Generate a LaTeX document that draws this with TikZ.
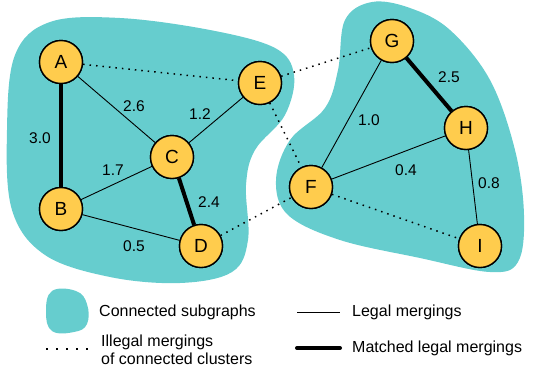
\documentclass[tikz,border=0pt]{standalone}
\usepackage{fontspec}
\setmainfont{Liberation Sans}
\begin{document}
\begin{tikzpicture}[x=1pt,y=-1pt,
  vtx/.style={circle,draw=black,line width=1.4pt,fill=nodeyellow,minimum size=43pt,inner sep=0pt,font=\fontsize{19}{19}\selectfont},
  legal/.style={line width=0.9pt},
  matched/.style={line width=4pt},
  illegal/.style={line width=1.5pt,dash pattern=on 1.5pt off 5pt},
  wlab/.style={font=\fontsize{15.5}{16}\selectfont,inner sep=0pt},
  leg/.style={font=\fontsize{16}{18}\selectfont,anchor=west,inner sep=0pt,align=left},
  blob/.style={fill=blobteal,draw=none}]
\definecolor{blobteal}{RGB}{102,205,206}
\definecolor{nodeyellow}{RGB}{255,204,77}
\useasboundingbox (0,0) rectangle (535,370);
% blobs
\fill[blob] plot[smooth cycle,tension=0.6] coordinates {(7,130) (15,55) (50,22) (120,18) (210,30) (275,48) (294,75) (285,115) (255,150) (246,185) (248,240) (232,272) (180,283) (110,277) (45,255) (12,210)};
\fill[blob] plot[smooth cycle,tension=0.6] coordinates {(372,2) (345,20) (338,70) (325,108) (290,140) (276,180) (288,215) (340,240) (420,258) (490,272) (518,262) (524,215) (515,150) (490,80) (450,30) (410,8)};
% nodes
\node[vtx] (A) at (61,62) {A};
\node[vtx] (B) at (61,209) {B};
\node[vtx] (C) at (172,157) {C};
\node[vtx] (D) at (201,246) {D};
\node[vtx] (E) at (260,83) {E};
\node[vtx] (G) at (392,41) {G};
\node[vtx] (H) at (466,128) {H};
\node[vtx] (F) at (311,187) {F};
\node[vtx] (I) at (480,246) {I};
% edges
\draw[matched] (A) -- (B);
\draw[matched] (C) -- (D);
\draw[matched] (G) -- (H);
\draw[legal] (A) -- (C);
\draw[legal] (C) -- (E);
\draw[legal] (B) -- (C);
\draw[legal] (B) -- (D);
\draw[legal] (G) -- (F);
\draw[legal] (F) -- (H);
\draw[legal] (H) -- (I);
\draw[illegal] (A) -- (E);
\draw[illegal] (E) -- (G);
\draw[illegal] (E) -- (F);
\draw[illegal] (D) -- (F);
\draw[illegal] (F) -- (I);
% redraw nodes on top
\node[vtx] at (A) {A};
\node[vtx] at (B) {B};
\node[vtx] at (C) {C};
\node[vtx] at (D) {D};
\node[vtx] at (E) {E};
\node[vtx] at (G) {G};
\node[vtx] at (H) {H};
\node[vtx] at (F) {F};
\node[vtx] at (I) {I};
% weights
\node[wlab] (wab) at (40,138) {3.0};
\node[wlab] (wac) at (134,106) {2.6};
\node[wlab] (wce) at (200,114) {1.2};
\node[wlab] (wbc) at (113,170) {1.7};
\node[wlab] (wcd) at (209,202) {2.4};
\node[wlab] (wbd) at (134,246) {0.5};
\node[wlab] (wgh) at (449,77) {2.5};
\node[wlab] (wgf) at (369,120) {1.0};
\node[wlab] (wfh) at (406,170) {0.4};
\node[wlab] (whi) at (489,183) {0.8};
% legend
\fill[blob] plot[smooth cycle,tension=0.7] coordinates {(52,291) (76,291) (87,304) (87,324) (74,332) (52,331) (46,312)};
\node[leg] (l1) at (99,312) {Connected subgraphs};
\coordinate (l2a) at (297,312); \coordinate (l2b) at (340,312);
\draw[legal] (l2a) -- (l2b);
\node[leg] (l2) at (352,312) {Legal mergings};
\coordinate (l3a) at (46,349); \coordinate (l3b) at (88,349);
\draw[line width=1.3pt,dash pattern=on 1.5pt off 8.5pt] (l3a) -- (l3b);
\node[leg] (l3) at (101,350) {Illegal mergings\\of connected clusters};
\coordinate (l4a) at (297,348); \coordinate (l4b) at (340,348);
\draw[matched,line cap=round] (l4a) -- (l4b);
\node[leg] (l4) at (352,348) {Matched legal mergings};
\end{tikzpicture}
\end{document}
